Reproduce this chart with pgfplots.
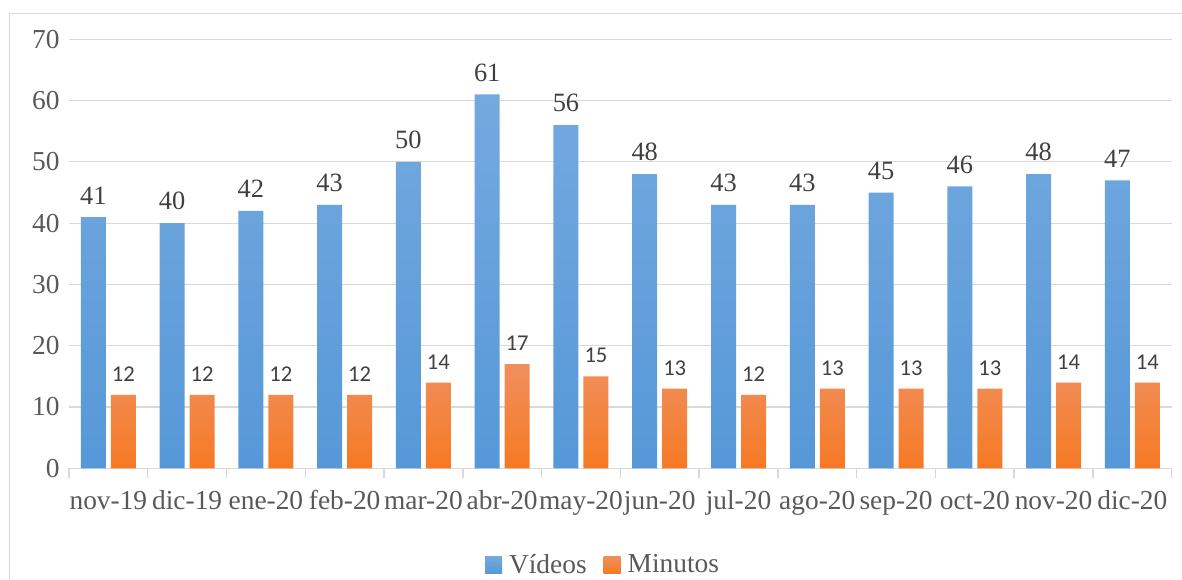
\documentclass[border=0pt]{standalone}
\usepackage{fontspec}
\setmainfont{Liberation Serif}
\newfontfamily\carlito{Carlito}
\usepackage{pgfplots}
\pgfplotsset{compat=1.18}

\definecolor{framegray}{RGB}{217,217,217}
\definecolor{textgray}{RGB}{89,89,89}
\definecolor{labelgray}{RGB}{64,64,64}
\definecolor{bluetop}{RGB}{116,169,223}
\definecolor{bluebot}{RGB}{86,152,216}
\definecolor{orangetop}{RGB}{240,143,92}
\definecolor{orangebot}{RGB}{246,121,36}

\begin{document}
\begin{tikzpicture}
% page: 1182 x 579 units of 0.5pt
\useasboundingbox (0,0) rectangle (591pt,289.5pt);
% chart frame (runs off the right and bottom edges)
\draw[framegray, line width=0.7pt] (4.75pt,-10pt) rectangle (600pt,282.85pt);
\begin{axis}[
  at={(34.5pt,55.35pt)}, anchor=south west,
  scale only axis, width=551.35pt, height=214.5pt,
  xmin=-0.5, xmax=13.5, ymin=0, ymax=70,
  ybar=2.5pt, bar width=12.5pt,
  axis lines*=left,
  x axis line style={framegray, line width=0.7pt, -},
  y axis line style={draw=none},
  ytick={0,10,...,70},
  ymajorgrids,
  grid style={framegray, line width=0.55pt},
  xtick={0,...,13},
  xticklabels={nov-19,dic-19,ene-20,feb-20,mar-20,abr-20,may-20,jun-20,jul-20,ago-20,sep-20,oct-20,nov-20,dic-20},
  minor xtick={-0.5,0.5,...,13.5},
  tick align=outside,
  major tick length=0pt,
  minor tick length=5pt,
  major tick style={draw=none},
  minor x tick style={framegray, line width=0.7pt},
  /pgf/number format/assume math mode=true,
  xticklabel style={font=\fontsize{13.7pt}{16pt}\selectfont, text=textgray, anchor=base, yshift=-20.4pt},
  yticklabel style={font=\fontsize{13.7pt}{16pt}\selectfont, text=textgray, anchor=east, inner sep=0pt, xshift=-4.5pt},
  legend columns=2,
  legend style={at={(0.4834,-0.2254)}, anchor=center, draw=none, fill=none,
    font=\fontsize{13.7pt}{16pt}\selectfont, text=textgray,
    nodes={inner xsep=0pt, inner ysep=1pt},
    /tikz/every odd column/.append style={column sep=3.5pt},
    /tikz/every even column/.append style={column sep=8.5pt}},
  legend image code/.code={\path[#1, draw=none] (0pt,-4.25pt) rectangle (8.5pt,4.25pt);},
]
\addplot[draw=none, top color=bluetop, bottom color=bluebot,
  nodes near coords,
  every node near coord/.append style={font=\fontsize{13.2pt}{15pt}\selectfont, text=labelgray, anchor=south, inner sep=0pt, yshift=6.3pt}]
  coordinates {(0,41) (1,40) (2,42) (3,43) (4,50) (5,61) (6,56) (7,48) (8,43) (9,43) (10,45) (11,46) (12,48) (13,47)};
\addlegendentry{Vídeos}
\addplot[draw=none, top color=orangetop, bottom color=orangebot,
  nodes near coords,
  every node near coord/.append style={font=\carlito\fontsize{11.3pt}{13pt}\selectfont, text=labelgray, anchor=south, inner sep=0pt, yshift=6.5pt}]
  coordinates {(0,12) (1,12) (2,12) (3,12) (4,14) (5,17) (6,15) (7,13) (8,12) (9,13) (10,13) (11,13) (12,14) (13,14)};
\addlegendentry{Minutos}
\end{axis}
\end{tikzpicture}
\end{document}
